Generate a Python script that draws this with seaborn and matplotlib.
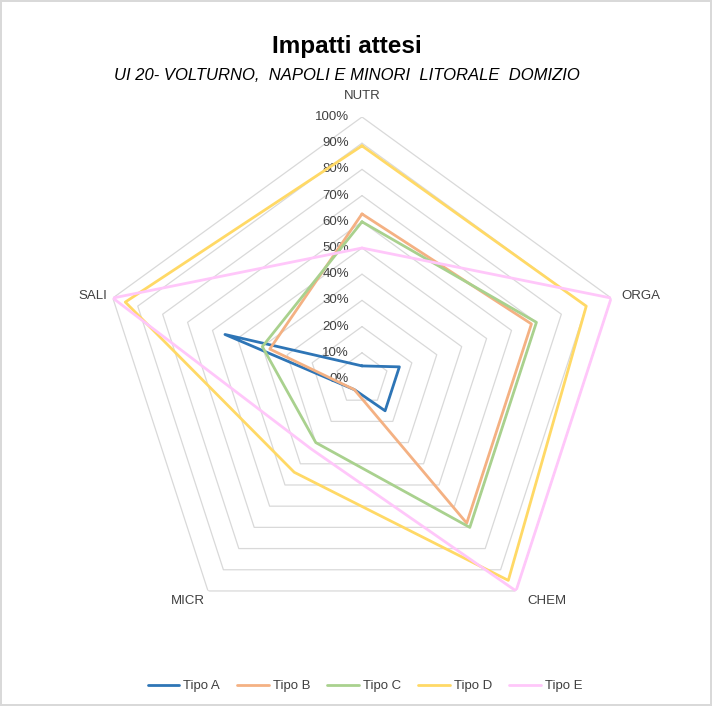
import numpy as np
import pandas as pd
import matplotlib
matplotlib.use("Agg")
import matplotlib.pyplot as plt
import seaborn as sns

# data (percent)
categories = ["NUTR", "ORGA", "CHEM", "MICR", "SALI"]
series = ["Tipo A", "Tipo B", "Tipo C", "Tipo D", "Tipo E"]
tipo_a = [5, 15, 15, 5, 55]
tipo_b = [63, 68, 68, 5, 37]
tipo_c = [60, 70, 70, 30, 40]
tipo_d = [89, 90, 95, 44, 95]
tipo_e = [50, 100, 100, 33, 100]
tick_labels = ["0%", "10%", "20%", "30%", "40%", "50%", "60%", "70%", "80%", "90%", "100%"]
colors = ["#2E75B6", "#F4B183", "#A9D18E", "#FFD966", "#FFC7FA"]

sns.set_theme(style="white")
plt.rcParams["font.family"] = ["Liberation Sans", "DejaVu Sans"]

n = len(categories)
angles = np.linspace(0, 2 * np.pi, n, endpoint=False)

rows = []
for name, vals in zip(series, [tipo_a, tipo_b, tipo_c, tipo_d, tipo_e]):
    for i in list(range(n)) + [0]:
        rows.append({"Tipo": name, "theta": angles[i], "r": vals[i] / 100})
df = pd.DataFrame(rows)

fig = plt.figure(figsize=(7.12, 7.06), dpi=100)
fig.patch.set_edgecolor("#D9D9D9")
fig.patch.set_linewidth(1.5)

cx, cy, R = 362, 379, 262
W, H = 712, 706
ax = fig.add_axes([(cx - R) / W, 1 - (cy + R) / H, 2 * R / W, 2 * R / H], projection="polar")
ax.set_theta_offset(np.pi / 2)
ax.set_theta_direction(-1)
ax.set_ylim(0, 1.0)
ax.grid(False)
ax.spines["polar"].set_visible(False)
ax.set_xticks([])
ax.set_yticks([])
ax.patch.set_alpha(0)

# pentagon gridlines
closed = np.append(angles, angles[0])
for k in range(1, 11):
    ax.plot(closed, [k / 10] * (n + 1), color="#D9D9D9", lw=0.9, zorder=1)

sns.lineplot(data=df, x="theta", y="r", hue="Tipo", palette=colors, sort=False,
             estimator=None, lw=2.0, ax=ax, zorder=3)
ax.set_xlabel("")
ax.set_ylabel("")
handles, labels = ax.get_legend_handles_labels()
ax.get_legend().remove()

# radial tick labels
for k, lab in enumerate(tick_labels):
    ax.annotate(lab, xy=(0, k / 10), xytext=(-13, 0), textcoords="offset pixels",
                ha="right", va="center", fontsize=9.5, color="#404040", zorder=2)

# category labels
offsets = [(0, 21, "center"), (10, 2, "left"), (11, -10, "left"), (-3, -10, "right"), (-6, 2, "right")]
for ang, cat, (dx, dy, ha) in zip(angles, categories, offsets):
    ax.annotate(cat, xy=(ang, 1.0), xytext=(dx, dy), textcoords="offset pixels",
                ha=ha, va="center", fontsize=9.5, color="#404040")

fig.text(347 / W, 1 - 47 / H, "Impatti attesi", ha="center", va="center",
         fontsize=17.5, fontweight="bold", color="black")
fig.text(347 / W, 1 - 75 / H, "UI 20- VOLTURNO,  NAPOLI E MINORI  LITORALE  DOMIZIO",
         ha="center", va="center", fontsize=12, style="italic", color="black")

fig.legend(handles, labels, loc="center", bbox_to_anchor=(365 / W, 1 - 686 / H), ncol=5,
           frameon=False, fontsize=9.5, handlelength=2.4, columnspacing=1.3,
           handletextpad=0.3, labelcolor="#404040")

fig.savefig("out.png", dpi=100)
